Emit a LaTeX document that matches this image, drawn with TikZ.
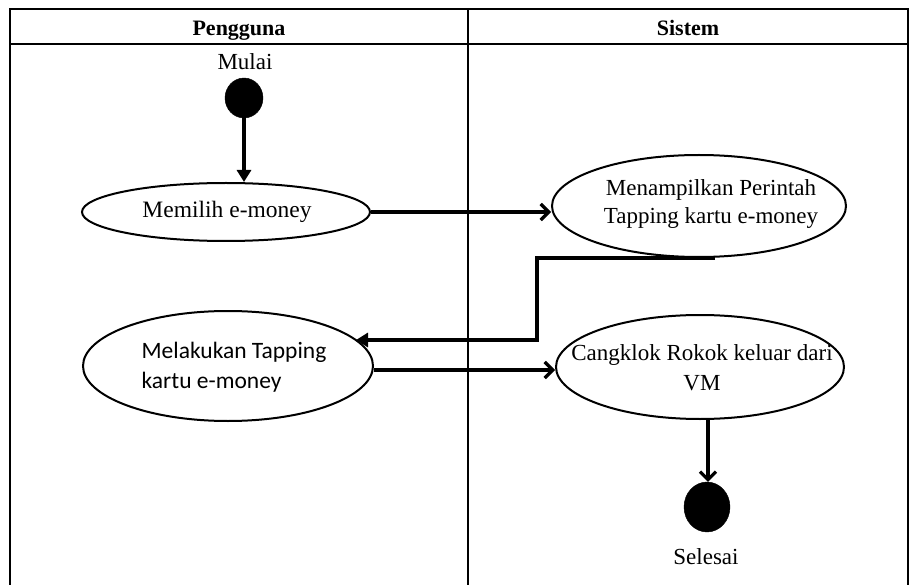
\documentclass[tikz,border=0pt]{standalone}
\usepackage{fontspec}
\setmainfont{Liberation Serif}
\newfontfamily\calib{Carlito}
\usetikzlibrary{shapes.geometric,arrows.meta,calc}
\begin{document}
\begin{tikzpicture}[x=1pt,y=-1pt,
  lane/.style={line width=1.1pt},
  act/.style={ellipse,draw,line width=2pt,inner sep=0pt},
  txt/.style={font=\fontsize{23}{28}\selectfont,align=center,inner sep=0pt},
  dot/.style={ellipse,fill=black,draw=black,inner sep=0pt},
  hdr/.style={font=\bfseries\fontsize{22}{26}\selectfont,anchor=base,inner sep=0pt},
  lbl/.style={font=\fontsize{23}{27}\selectfont,anchor=base,inner sep=0pt},
  barb/.style={line width=3.2pt,-{Straight Barb[length=8pt,width=16pt]}},
  tri/.style={line width=3.2pt,-{Triangle[length=12pt,width=14pt]}}]
\useasboundingbox (0,0) rectangle (910,585);
% swimlane frame
\draw[lane] (10,585) -- (10,9) -- (908,9) -- (908,585);
\draw[lane] (10,44) -- (908,44);
\draw[lane] (468,9) -- (468,585);
\node[hdr] (hp) at (239,35.5) {Pengguna};
\node[hdr] (hs) at (688,35.5) {Sistem};
% nodes
\node[lbl] (mulai) at (245,70) {Mulai};
\node[dot,minimum width=38pt,minimum height=40pt] (start) at (244,98) {};
\node[act,minimum width=288pt,minimum height=58pt] (e1) at (226,212) {};
\node[txt,font=\fontsize{23.5}{29}\selectfont] (e1t) at (227,212) {Memilih e-money};
\node[act,minimum width=294pt,minimum height=102pt] (e2) at (699,206) {};
\node[txt] (e2t) at (711,204) {Menampilkan Perintah\\Tapping kartu e-money};
\node[act,minimum width=290pt,minimum height=110pt] (e3) at (228,366) {};
\node[txt,font=\calib\fontsize{23.5}{30}\selectfont,align=left] (e3t) at (234,367) {Melakukan Tapping\\kartu e-money};
\node[act,minimum width=288pt,minimum height=104pt] (e4) at (700,367) {};
\node[txt,font=\fontsize{23}{30}\selectfont] (e4t) at (702,368) {Cangklok Rokok keluar dari\\VM};
\node[dot,minimum width=46pt,minimum height=50pt] (end) at (707,507) {};
\node[lbl] (selesai) at (706,564) {Selesai};
% connectors
\coordinate (a2) at ([xshift=16]e2.south);
\coordinate (c1) at (537,340);
\coordinate (t3) at (356,340);
\draw[tri] (start.south) -- (start.south |- e1.north);
\draw[barb] (e1.east) -- (e1.east -| e2.west);
\draw[tri] (a2) -- (a2 -| c1) -- (c1) -- (t3);
\draw[barb] ([yshift=-4]e3.east) -- ([yshift=-4]e3.east -| e4.west);
\draw[barb] ([xshift=8]e4.south) -- ([xshift=8]e4.south |- end.north);
\end{tikzpicture}
\end{document}
